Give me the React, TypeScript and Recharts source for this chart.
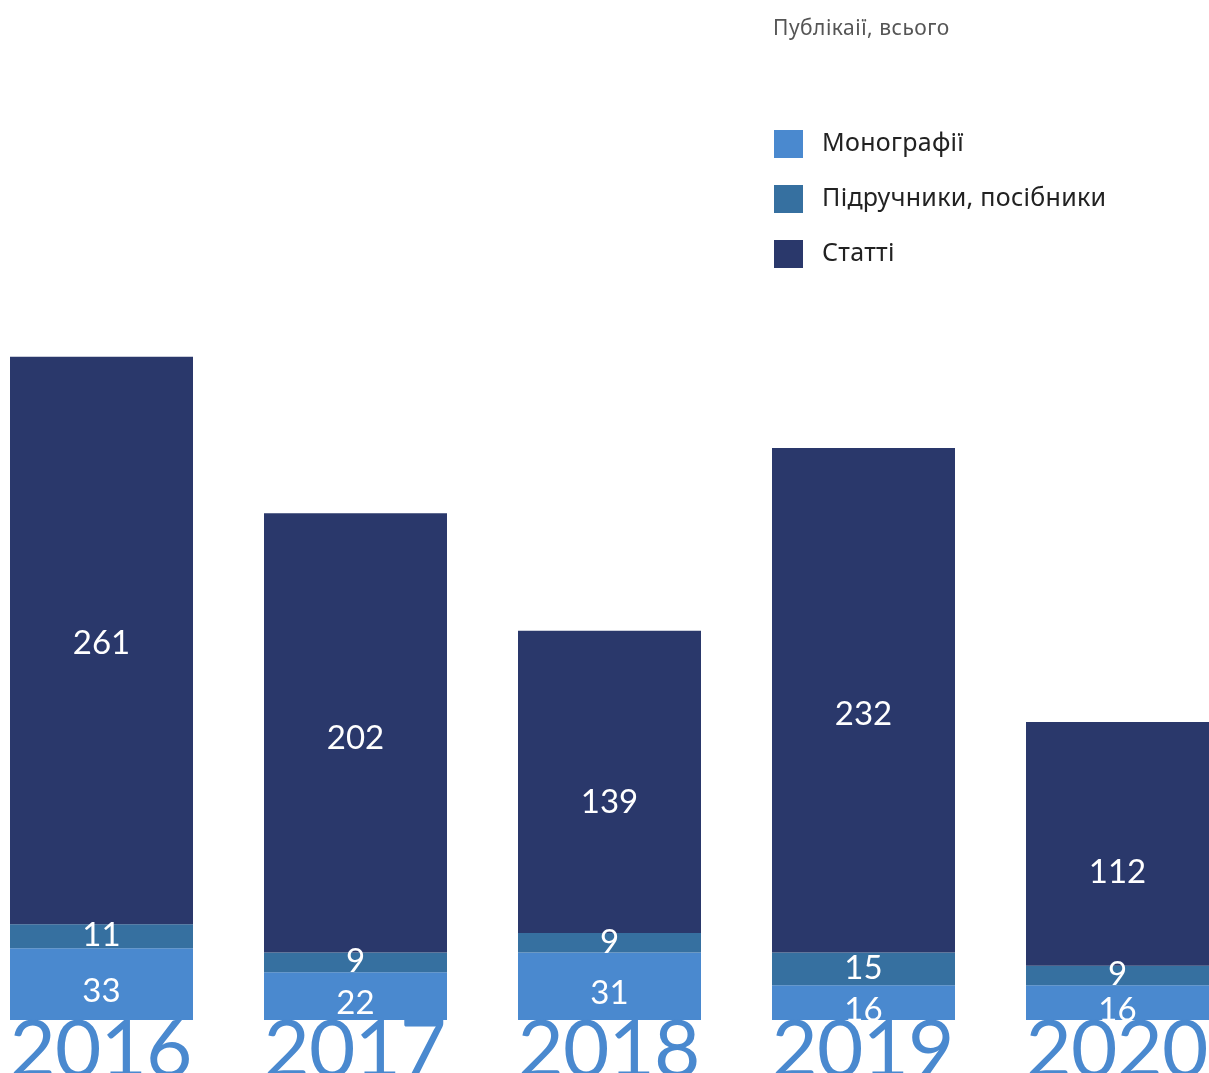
import React from 'react';
import { BarChart, Bar, XAxis, YAxis, LabelList, Legend } from 'recharts';

const years = ['2016', '2017', '2018', '2019', '2020'];
const monographs = [33, 22, 31, 16, 16];
const textbooks = [11, 9, 9, 15, 9];
const articles = [261, 202, 139, 232, 112];

const seriesNames = ['Монографії', 'Підручники, посібники', 'Статті'];
const seriesColors = ['#4a89cf', '#3670a0', '#2a386b'];
const legendTitle = 'Публікаії, всього';

// small vertical nudges of the article labels (as placed in the original)
const articleLabelNudge = [1, 3, 18, 12, 26];

const data = years.map((y, i) => ({
  year: y,
  mono: monographs[i],
  text: textbooks[i],
  art: articles[i],
}));

const FONT_NUM = "Lato, 'Noto Sans', sans-serif";

const YearTick = (props: any) => {
  const { x, y, payload } = props;
  return (
    <text
      x={x}
      y={y + 57}
      textAnchor="middle"
      fontFamily={FONT_NUM}
      fontSize={80}
      fontWeight={400}
      fill="#4a89cf"
      textLength={183}
      lengthAdjust="spacing"
    >
      {payload.value}
    </text>
  );
};

const LegendContent = () => (
  <div style={{ fontFamily: "'Noto Sans', sans-serif" }}>
    <div style={{ fontSize: 21, lineHeight: '24px', color: '#555', height: 24, letterSpacing: 0.5, whiteSpace: 'nowrap' }}>
      {legendTitle}
    </div>
    <div style={{ height: 91 }} />
    {seriesNames.map((n, i) => (
      <div key={n} style={{ display: 'flex', alignItems: 'center', height: 28, marginBottom: 27 }}>
        <div style={{ width: 29, height: 28, background: seriesColors[i], marginRight: 19, marginLeft: 1, flex: 'none' }} />
        <span style={{ fontSize: 25, lineHeight: '28px', color: '#222', whiteSpace: 'nowrap', letterSpacing: 0.3, position: 'relative', top: -3 }}>
          {n}
        </span>
      </div>
    ))}
  </div>
);

const makeLabel = (dyBase: number, nudges?: number[]) => (props: any) => {
  const { x, y, width, height, value, index } = props;
  const cx = Number(x) + Number(width) / 2;
  const cy = Number(y) + Number(height) / 2 + dyBase + (nudges ? nudges[index] || 0 : 0);
  return (
    <text
      x={cx}
      y={cy}
      textAnchor="middle"
      dominantBaseline="central"
      fill="#ffffff"
      fontSize={33}
      fontWeight={400}
      fontFamily={FONT_NUM}
    >
      {value}
    </text>
  );
};

export default function App() {
  return (
    <div style={{ position: 'fixed', left: 0, top: 0, width: 1209, height: 1073, overflow: 'hidden' }}>
      <div style={{ position: 'absolute', left: -26, top: 8 }}>
        <BarChart
          width={1270}
          height={1065}
          data={data}
          margin={{ top: 142, right: 0, bottom: 0, left: 0 }}
          barSize={183}
        >
          <XAxis
            dataKey="year"
            height={53}
            axisLine={false}
            tickLine={false}
            tickSize={0}
            tickMargin={0}
            interval={0}
            tick={<YearTick />}
          />
          <YAxis hide domain={[0, 400]} />
          <Legend
            layout="horizontal"
            verticalAlign="middle"
            align="center"
            content={<LegendContent />}
            wrapperStyle={{ left: 799, top: 7, width: 'auto', height: 'auto' }}
          />
          <Bar dataKey="mono" name={seriesNames[0]} stackId="a" fill={seriesColors[0]} isAnimationActive={false}>
            <LabelList dataKey="mono" content={makeLabel(5)} />
          </Bar>
          <Bar dataKey="text" name={seriesNames[1]} stackId="a" fill={seriesColors[1]} isAnimationActive={false}>
            <LabelList dataKey="text" content={makeLabel(-3)} />
          </Bar>
          <Bar dataKey="art" name={seriesNames[2]} stackId="a" fill={seriesColors[2]} isAnimationActive={false}>
            <LabelList dataKey="art" content={makeLabel(0, articleLabelNudge)} />
          </Bar>
        </BarChart>
      </div>
    </div>
  );
}
